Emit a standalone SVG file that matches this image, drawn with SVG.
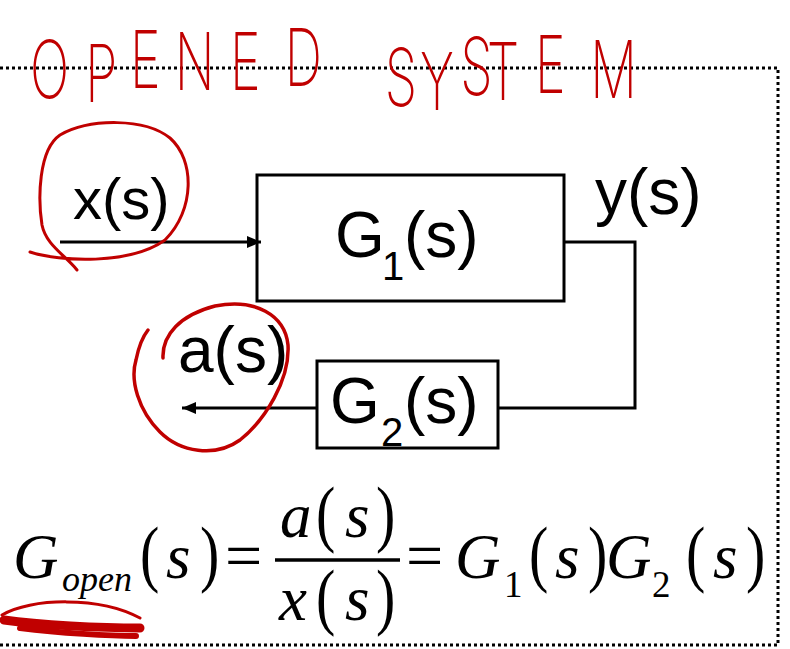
<svg xmlns="http://www.w3.org/2000/svg" width="790" height="649" viewBox="0 0 790 649">
<defs>
<style>
.lbl{font-family:"Liberation Sans",Arial,sans-serif;font-size:64px;fill:#000}
.sb{font-size:40px}
.box{fill:none;stroke:#000;stroke-width:3}
.wire{fill:none;stroke:#000;stroke-width:3}
.m{font-family:"Liberation Serif","Times New Roman",serif;font-size:63px;fill:#000}
.mi{font-style:italic}
.p{font-size:58px}
.eq{font-size:66px}
.ms{font-size:37px}
.mo{font-size:36px}
.red{fill:none;stroke:#c00000;stroke-linecap:round;stroke-linejoin:round}
.hand{font-family:Inter,"Open Sans","DejaVu Sans",sans-serif;font-weight:200;font-size:80px;fill:#c00000}
</style>
<marker id="ah" markerUnits="userSpaceOnUse" markerWidth="14" markerHeight="12" refX="14" refY="6" orient="auto">
<path d="M0,0 L14,6 L0,12 z" fill="#000"/>
</marker>
</defs>
<rect width="790" height="649" fill="#fff"/>

<g id="border">
<path d="M0,68 H778 V645 H0" fill="none" stroke="#000" stroke-width="3" stroke-dasharray="3 3"/>
</g>

<g id="title">
<text class="hand" transform="scale(0.65,1)" x="46 131 200 269 354 438 508 592 646 708 749 823 908" y="98 102 88 90 90 86 90 106 110 95 100 93 98">OPENED SYSTEM</text>
</g>

<g id="connectors">
<line class="wire" x1="60" y1="242" x2="261" y2="242" marker-end="url(#ah)"/>
<polyline class="wire" points="564,242 635,242 635,408 498,408"/>
<line class="wire" x1="317" y1="408" x2="182" y2="408" marker-end="url(#ah)"/>
</g>

<g id="node-g1">
<rect class="box" x="257" y="175" width="307" height="126"/>
<text class="lbl"><tspan x="335" y="257">G</tspan><tspan class="sb" x="382" y="280">1</tspan><tspan x="404" y="257">(s)</tspan></text>
</g>

<g id="node-g2">
<rect class="box" x="317" y="361" width="181" height="87"/>
<text class="lbl"><tspan x="330" y="423">G</tspan><tspan class="sb" x="381" y="446">2</tspan><tspan x="404" y="423">(s)</tspan></text>
</g>

<g id="label-x"><text class="lbl" x="73" y="219" style="font-size:58px">x(s)</text></g>
<g id="label-y"><text class="lbl" x="595" y="214">y(s)</text></g>
<g id="label-a"><text class="lbl" x="178" y="372">a(s)</text></g>

<g id="equation">
<text class="m mi" x="13" y="578">G</text>
<text class="m mi mo" x="62" y="591">open</text>
<text class="m p" transform="translate(140,578) scale(1,1.27)">(</text>
<text class="m mi" x="166" y="578">s</text>
<text class="m p" transform="translate(200,578) scale(1,1.27)">)</text>
<text class="m eq" x="225" y="578">=</text>
<line x1="275" y1="560" x2="400" y2="560" stroke="#000" stroke-width="3.5"/>
<text class="m mi" x="280" y="537">a</text>
<text class="m p" transform="translate(316,538) scale(1,1.27)">(</text>
<text class="m mi" x="345" y="537">s</text>
<text class="m p" transform="translate(376,538) scale(1,1.27)">)</text>
<text class="m mi" x="279" y="620">x</text>
<text class="m p" transform="translate(316,620.5) scale(1,1.27)">(</text>
<text class="m mi" x="345" y="620">s</text>
<text class="m p" transform="translate(376,620.5) scale(1,1.27)">)</text>
<text class="m eq" x="406" y="578">=</text>
<text class="m mi" x="455" y="578">G</text>
<text class="m ms" x="504" y="597">1</text>
<text class="m p" transform="translate(529,578) scale(1,1.27)">(</text>
<text class="m mi" x="555" y="578">s</text>
<text class="m p" transform="translate(588,578) scale(1,1.27)">)</text>
<text class="m mi" x="606" y="578">G</text>
<text class="m ms" x="652" y="597">2</text>
<text class="m p" transform="translate(686,578) scale(1,1.27)">(</text>
<text class="m mi" x="713" y="578">s</text>
<text class="m p" transform="translate(746,578) scale(1,1.27)">)</text>
</g>

<g id="annotations">
<path class="red" stroke-width="3" d="M30,252 C60,262 130,265 165,240 C195,210 195,160 170,138 C145,118 90,118 60,135 C38,150 38,200 42,225 C46,245 65,255 77,270"/>
<path class="red" stroke-width="3.5" d="M163,358 C162,335 180,315 215,306 C255,298 285,315 288,345 C290,380 265,420 240,440 C215,458 180,452 160,432 C138,410 130,380 136,360 C139,345 144,335 148,330"/>
<path class="red" stroke-width="3" d="M2,615 C30,598 100,596 140,618"/>
<path class="red" stroke-width="9" d="M4,620 C40,625 100,628 140,628"/>
<path class="red" stroke-width="6" d="M20,628 C60,633 110,636 136,636"/>
</g>
</svg>
